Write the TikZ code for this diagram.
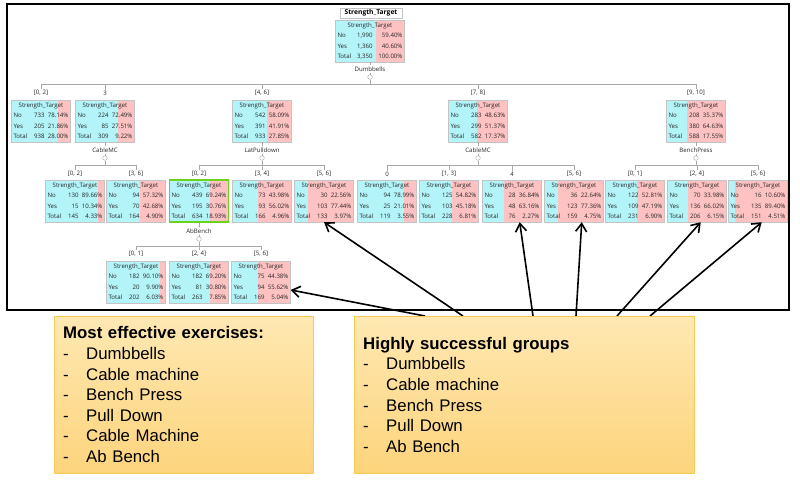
\documentclass[tikz,border=0pt]{standalone}
\usepackage{fontspec}
\setmainfont{Liberation Sans}
\newfontfamily\treefont{Open Sans}
\usepackage{array}
\usepackage{tikz}
\usetikzlibrary{positioning,calc,arrows.meta}
\usepackage{xcolor}

\definecolor{cyanc}{HTML}{B2F4F8}
\definecolor{pinkc}{HTML}{FFC2C2}
\definecolor{boxgray}{HTML}{C4C4C4}
\definecolor{linegray}{HTML}{A8A8A8}
\definecolor{selgreen}{HTML}{6CD21E}
\definecolor{notetop}{HTML}{FEE8B2}
\definecolor{notebot}{HTML}{FDD47C}
\definecolor{noteedge}{HTML}{F6CB55}

% one class table: counts and percents for No / Yes / Total
\newcommand{\stab}[6]{%
  \begin{tabular}{@{\hspace{2pt}}p{14pt}@{}>{\raggedleft\arraybackslash}p{17pt}@{}>{\raggedleft\arraybackslash}p{24pt}@{\hspace{2pt}}}
  \multicolumn{3}{c}{Strength\_Target}\\
  No & #1 & #2\%\\
  Yes & #3 & #4\%\\
  Total & #5 & #6\%
  \end{tabular}}
\newcommand{\roottab}[6]{%
  \begin{tabular}{@{\hspace{2pt}}p{14pt}@{}>{\raggedleft\arraybackslash}p{21pt}@{}>{\raggedleft\arraybackslash}p{30pt}@{\hspace{2pt}}}
  \multicolumn{3}{c}{Strength\_Target}\\
  No & #1 & #2\%\\
  Yes & #3 & #4\%\\
  Total & #5 & #6\%
  \end{tabular}}
\newcommand{\itm}[1]{\makebox[23pt][l]{-}#1}

\begin{document}
\begin{tikzpicture}[
    x=1pt, y=-1pt,
    >={Straight Barb[length=8pt,width=11pt]},
    every node/.style={font=\treefont\fontsize{6.1}{10.5}\selectfont, text=black!85},
    leaf/.style={
        draw=boxgray,
        fill=pinkc,
        inner sep=0pt,
        path picture={\fill[cyanc] (path picture bounding box.south west) rectangle
            ($(path picture bounding box.north west)!#1!(path picture bounding box.north east)$);}
    },
    ttl/.style={
        draw=boxgray,
        fill=white,
        inner sep=1pt,
        minimum width=62pt,
        minimum height=10pt,
        font=\treefont\bfseries\fontsize{6.7}{8}\selectfont,
        text=black
    },
    knob/.style={circle, draw=linegray, fill=white, inner sep=0pt, minimum size=4.6pt},
    branch/.style={inner sep=1pt},
    edge/.style={draw=linegray, line width=0.6pt},
    hit/.style={->, line width=1.6pt},
    note/.style={
        anchor=north west,
        draw=noteedge,
        top color=notetop,
        bottom color=notebot,
        align=left,
        inner xsep=9pt,
        inner ysep=0pt,
        minimum height=157pt,
        font=\fontsize{16.8}{20.6}\selectfont,
        text=black
    }
]
\useasboundingbox (0,0) rectangle (800,480);

% Frame round the tree
\draw[line width=2.5pt] (7,4) rectangle (789,310);

% Root
\node[ttl] (rtitle) at (371,13) {Strength\_Target};
\node[leaf=0.594] (root) at (370,41) {\roottab{1,990}{59.40}{1,360}{40.60}{3,350}{100.00}};
\node[branch] (dbl) at (370,69) {Dumbbells};
\node[knob] (dbk) at (370,77) {};

% First level
\node[branch] (ga) at (41,93) {[0, 2]};
\node[branch] (gb) at (105,93) {3};
\node[branch] (gc) at (262,93) {[4, 6]};
\node[branch] (gd) at (478,93) {[7, 8]};
\node[branch] (ge) at (696,93) {[9, 10]};

\node[leaf=0.7814] (na) at (41,121) {\stab{733}{78.14}{205}{21.86}{938}{28.00}};
\node[leaf=0.7249] (nb) at (105,121) {\stab{224}{72.49}{85}{27.51}{309}{9.22}};
\node[leaf=0.5809] (nc) at (262,121) {\stab{542}{58.09}{391}{41.91}{933}{27.85}};
\node[leaf=0.4863] (nd) at (478,121) {\stab{283}{48.63}{299}{51.37}{582}{17.37}};
\node[leaf=0.3537] (ne) at (696,121) {\stab{208}{35.37}{380}{64.63}{588}{17.55}};

\node[branch] (cml) at (105,150) {CableMC};
\node[branch] (lpl) at (262,150) {LatPulldown};
\node[branch] (cm2l) at (478,150) {CableMC};
\node[branch] (bpl) at (696,150) {BenchPress};
\node[knob] (cmk) at (105,158) {};
\node[knob] (lpk) at (262,158) {};
\node[knob] (cm2k) at (478,158) {};
\node[knob] (bpk) at (696,158) {};

% Second level
\node[branch] (tma1) at (75,174) {[0, 2]};
\node[branch] (tma2) at (136,174) {[3, 6]};
\node[branch] (tmb1) at (199,174) {[0, 2]};
\node[branch] (tmb2) at (262,174) {[3, 4]};
\node[branch] (tmb3) at (324,174) {[5, 6]};
\node[branch] (tmc1) at (387,174) {0};
\node[branch] (tmc2) at (449,174) {[1, 3]};
\node[branch] (tmc3) at (512,174) {4};
\node[branch] (tmc4) at (574,174) {[5, 6]};
\node[branch] (tmd1) at (635,174) {[0, 1]};
\node[branch] (tmd2) at (697,174) {[2, 4]};
\node[branch] (tmd3) at (758,174) {[5, 6]};

\node[leaf=0.8966] (ma1) at (75,201) {\stab{130}{89.66}{15}{10.34}{145}{4.33}};
\node[leaf=0.5732] (ma2) at (136,201) {\stab{94}{57.32}{70}{42.68}{164}{4.90}};
\node[leaf=0.6924, draw=selgreen, line width=1.2pt] (mb1) at (199,201) {\stab{439}{69.24}{195}{30.76}{634}{18.93}};
\node[leaf=0.4398] (mb2) at (262,201) {\stab{73}{43.98}{93}{56.02}{166}{4.96}};
\node[leaf=0.2256] (mb3) at (324,201) {\stab{30}{22.56}{103}{77.44}{133}{3.97}};
\node[leaf=0.7899] (mc1) at (387,201) {\stab{94}{78.99}{25}{21.01}{119}{3.55}};
\node[leaf=0.5482] (mc2) at (449,201) {\stab{125}{54.82}{103}{45.18}{228}{6.81}};
\node[leaf=0.3684] (mc3) at (512,201) {\stab{28}{36.84}{48}{63.16}{76}{2.27}};
\node[leaf=0.2264] (mc4) at (574,201) {\stab{36}{22.64}{123}{77.36}{159}{4.75}};
\node[leaf=0.5281] (md1) at (635,201) {\stab{122}{52.81}{109}{47.19}{231}{6.90}};
\node[leaf=0.3398] (md2) at (697,201) {\stab{70}{33.98}{136}{66.02}{206}{6.15}};
\node[leaf=0.1060] (md3) at (758,201) {\stab{16}{10.60}{135}{89.40}{151}{4.51}};

\node[branch] (abl) at (199,231) {AbBench};
\node[knob] (abk) at (199,239) {};

% Third level
\node[branch] (tpa1) at (136,254) {[0, 1]};
\node[branch] (tpa2) at (199,254) {[2, 4]};
\node[branch] (tpa3) at (261,254) {[5, 6]};

\node[leaf=0.9010] (pa1) at (136,282) {\stab{182}{90.10}{20}{9.90}{202}{6.03}};
\node[leaf=0.6920] (pa2) at (199,282) {\stab{182}{69.20}{81}{30.80}{263}{7.85}};
\node[leaf=0.4438] (pa3) at (261,282) {\stab{75}{44.38}{94}{55.62}{169}{5.04}};

% Tree lines
\draw[edge] (root) -- (dbl);
\draw[edge] (dbl) -- (dbk);
\foreach \c in {ga,gb,gc,gd,ge}
    \draw[edge] (dbk.south) -- ++(0,4.5) -| (\c.north);
\foreach \p/\s/\k in {nb/cml/cmk, nc/lpl/lpk, nd/cm2l/cm2k, ne/bpl/bpk, mb1/abl/abk} {
    \draw[edge] (\p) -- (\s);
    \draw[edge] (\s) -- (\k);
}
\foreach \c in {tma1,tma2}
    \draw[edge] (cmk.south) -- ++(0,4.5) -| (\c.north);
\foreach \c in {tmb1,tmb2,tmb3}
    \draw[edge] (lpk.south) -- ++(0,4.5) -| (\c.north);
\foreach \c in {tmc1,tmc2,tmc3,tmc4}
    \draw[edge] (cm2k.south) -- ++(0,4.5) -| (\c.north);
\foreach \c in {tmd1,tmd2,tmd3}
    \draw[edge] (bpk.south) -- ++(0,4.5) -| (\c.north);
\foreach \c in {tpa1,tpa2,tpa3}
    \draw[edge] (abk.south) -- ++(0,4.5) -| (\c.north);

% Arrows to the successful groups
\coordinate (s1) at (425,316);
\coordinate (s2) at (463,316);
\coordinate (s3) at (533,316);
\coordinate (s4) at (576,316);
\coordinate (s5) at (617,316);
\coordinate (s6) at (650,316);
\draw[hit] (s1) -- (pa3.-15);
\draw[hit] (s2) -- (mb3.south);
\draw[hit] (s3) -- (mc3.-70);
\draw[hit] (s4) -- (mc4.-70);
\draw[hit] (s5) -- (md2.-80);
\draw[hit] (s6) -- (md3.-80);

% Notes
\node[note, text width=241pt] (eff) at (54,316) {
    \textbf{Most effective exercises:}\\
    \itm{Dumbbells}\\
    \itm{Cable machine}\\
    \itm{Bench Press}\\
    \itm{Pull Down}\\
    \itm{Cable Machine}\\
    \itm{Ab Bench}
};
\node[note, text width=322pt] (succ) at (354,316) {
    \textbf{Highly successful groups}\\
    \itm{Dumbbells}\\
    \itm{Cable machine}\\
    \itm{Bench Press}\\
    \itm{Pull Down}\\
    \itm{Ab Bench}
};

\end{tikzpicture}
\end{document}
